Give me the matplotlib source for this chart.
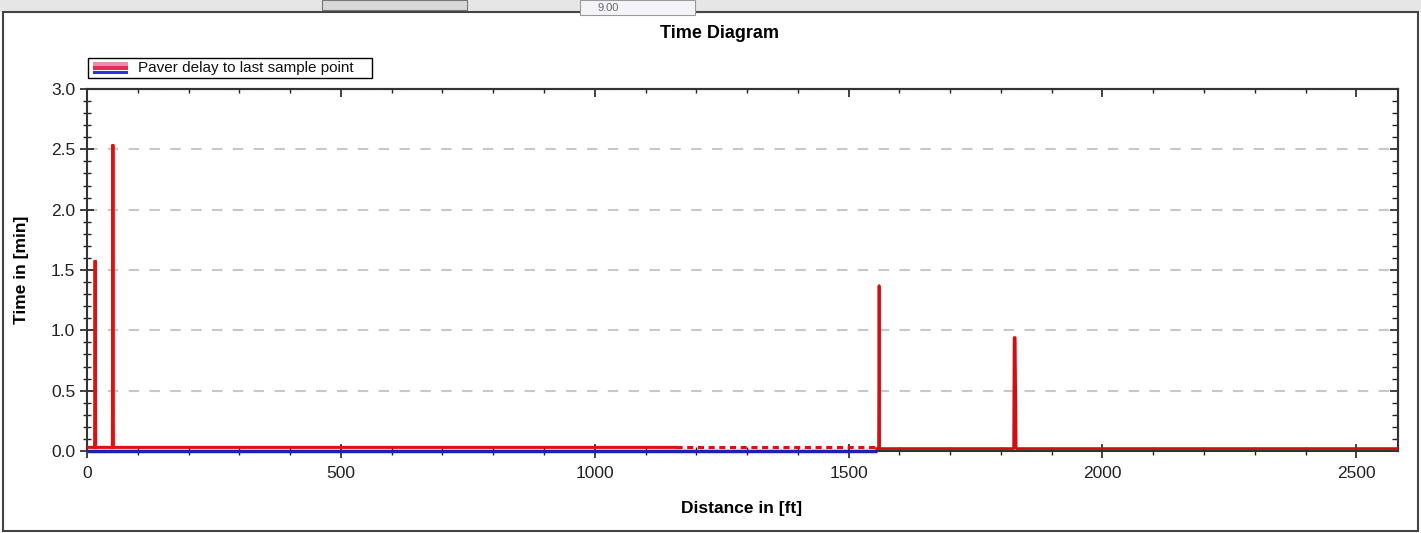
import matplotlib
matplotlib.use("Agg")
import matplotlib.pyplot as plt
from matplotlib.ticker import MultipleLocator, NullFormatter
from matplotlib.patches import Rectangle

plt.rcParams['font.family'] = ['Liberation Sans', 'DejaVu Sans']

# ---- data ----
title = "Time Diagram"
x_label = "Distance in [ft]"
y_label = "Time in [min]"
series_name = "Paver delay to last sample point"

# main solid part of the series (ft, min)
dist_a = [0, 15, 16, 17, 50, 51, 52, 1160]
time_a = [0.03, 0.03, 1.58, 0.03, 0.03, 2.54, 0.03, 0.03]
# sparse / dashed looking part
dist_b = [1160, 1555]
time_b = [0.03, 0.03]
# last part
dist_c = [1555, 1559, 1560, 1561, 1825, 1826, 1828, 1830, 2582]
time_c = [0.02, 0.02, 1.37, 0.02, 0.02, 0.94, 0.94, 0.02, 0.02]
# blue underline
dist_blue = [0, 1555]
time_blue = [0.0, 0.0]

x_ticks = [0, 500, 1000, 1500, 2000, 2500]
y_ticks = [0.0, 0.5, 1.0, 1.5, 2.0, 2.5, 3.0]

W, H = 1421, 533
fig = plt.figure(figsize=(W / 100, H / 100), dpi=100)
fig.patch.set_facecolor('white')

def fx(px):
    return px / W

def fy(py):
    return 1 - py / H

# window chrome
fig.add_artist(Rectangle((0, fy(12)), 1, 12 / H, transform=fig.transFigure,
                         facecolor='#e6e6e6', edgecolor='none', zorder=-5))
fig.add_artist(Rectangle((fx(3), fy(531)), (W - 6) / W, (531 - 12) / H, transform=fig.transFigure,
                         facecolor='none', edgecolor='#444444', lw=1.5, zorder=-4))
fig.add_artist(Rectangle((fx(322), fy(10)), 145 / W, 10 / H, transform=fig.transFigure,
                         facecolor='#d8d8d8', edgecolor='#777777', lw=0.8))
fig.add_artist(Rectangle((fx(580), fy(15)), 115 / W, 15 / H, transform=fig.transFigure,
                         facecolor='#f4f4f8', edgecolor='#999999', lw=0.8))
fig.text(fx(598), fy(8), "9.00", fontsize=8, color='#666666', va='center')

ax = fig.add_axes([fx(87), fy(451), (1398 - 87) / W, (451 - 89) / H])
ax.set_facecolor('white')
ax.set_xlim(0, 2582)
ax.set_ylim(0, 3.0)

ax.yaxis.grid(True, linestyle=(0, (5, 5)), color='#c8c8c8', lw=1.5)
ax.set_axisbelow(True)

ax.plot(dist_blue, time_blue, color='#2020b0', lw=2.5, solid_capstyle='butt', zorder=3, clip_on=False)
ax.plot(dist_a, time_a, color='#e01010', lw=2.2, zorder=4, solid_joinstyle='miter')
ax.plot(dist_b, time_b, color='#e01010', lw=2.2, linestyle=(0, (2, 1.5)), zorder=4)
ax.plot(dist_c, time_c, color='#d01010', lw=2.0, zorder=4)

ax.set_xticks(x_ticks)
ax.set_yticks(y_ticks)
ax.set_yticklabels([f"{v:.1f}" for v in y_ticks])
ax.xaxis.set_minor_locator(MultipleLocator(100))
ax.yaxis.set_minor_locator(MultipleLocator(0.1))
ax.tick_params(which='major', direction='inout', length=10, width=1.2, labelsize=12.5,
               colors='#222222')
ax.tick_params(which='minor', direction='inout', length=6, width=1.0, colors='#222222')
ax.tick_params(axis='x', pad=6)
for s in ax.spines.values():
    s.set_color('#333333')
    s.set_linewidth(1.5)

# inward ticks on top and right
secx = ax.secondary_xaxis('top')
secx.set_xticks(x_ticks)
secx.xaxis.set_minor_locator(MultipleLocator(100))
secx.xaxis.set_major_formatter(NullFormatter())
secx.tick_params(which='major', direction='in', length=6, width=1.2, colors='#222222')
secx.tick_params(which='minor', direction='in', length=3, width=1.0, colors='#222222')
secx.spines['top'].set_color('#333333')
secx.spines['top'].set_linewidth(1.5)

secy = ax.secondary_yaxis('right')
secy.set_yticks(y_ticks)
secy.yaxis.set_minor_locator(MultipleLocator(0.1))
secy.yaxis.set_major_formatter(NullFormatter())
secy.tick_params(which='major', direction='in', length=6, width=1.2, colors='#222222')
secy.tick_params(which='minor', direction='in', length=4, width=1.0, colors='#222222')
secy.spines['right'].set_color('#333333')
secy.spines['right'].set_linewidth(1.5)

# legend (drawn like the original: frame, red/blue swatch, label)
fig.add_artist(Rectangle((fx(88), fy(78)), (372 - 88) / W, 20 / H, transform=fig.transFigure,
                         facecolor='white', edgecolor='black', lw=1.0, zorder=5))
fig.add_artist(Rectangle((fx(93), fy(70)), 35 / W, 4 / H, transform=fig.transFigure,
                         facecolor='#e03050', edgecolor='none', zorder=6))
fig.add_artist(Rectangle((fx(93), fy(74)), 35 / W, 3 / H, transform=fig.transFigure,
                         facecolor='#3030e0', edgecolor='none', zorder=6))
fig.add_artist(Rectangle((fx(93), fy(66)), 35 / W, 4 / H, transform=fig.transFigure,
                         facecolor='#e890a8', edgecolor='none', zorder=6))
fig.text(fx(138), fy(68), series_name, ha='left', va='center', fontsize=11, color='#111111', zorder=6)

fig.text(fx(720), fy(33), title, ha='center', va='center', fontsize=13, fontweight='bold')
fig.text(fx(742), fy(508), x_label, ha='center', va='center', fontsize=12.5, fontweight='bold')
fig.text(fx(22), fy(270), y_label, ha='center', va='center', rotation=90, fontsize=12.5, fontweight='bold')

fig.savefig("out.png", dpi=100)
